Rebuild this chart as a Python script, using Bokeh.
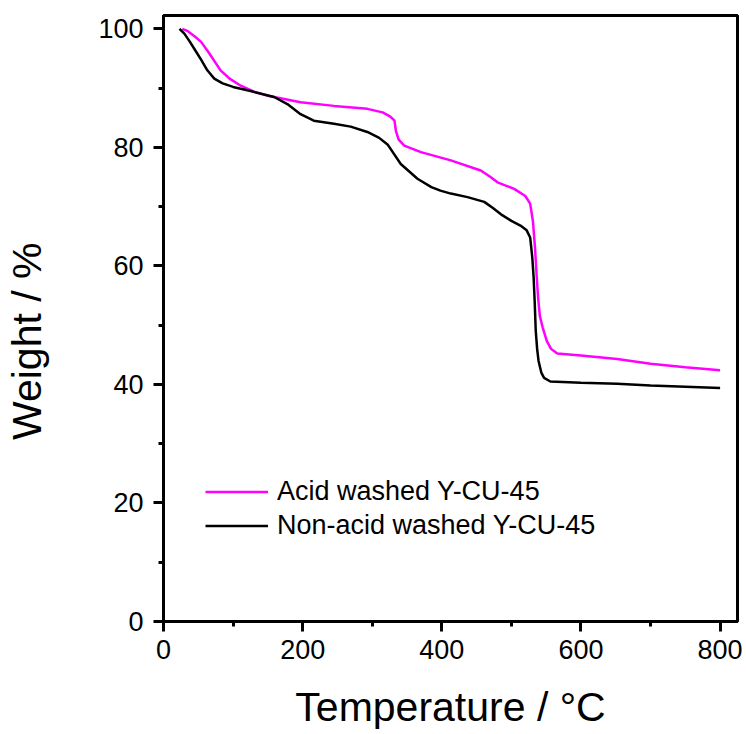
from bokeh.plotting import figure
from bokeh.models import Range1d, FixedTicker, Legend, LegendItem
from bokeh.embed import file_html
from bokeh.resources import INLINE

# Acid washed Y-CU-45
acid_T = [27, 35, 45, 54, 65, 82, 95, 111, 130, 150, 197, 245, 293, 315, 326, 332,
          334, 338, 346, 370, 413, 456, 470, 480, 504, 520, 527, 531, 534, 536.5,
          538.5, 541, 545, 551, 557, 566, 600, 652, 700, 750, 800]
acid_W = [100.0, 99.6, 98.7, 97.8, 96.0, 93.0, 91.6, 90.4, 89.4, 88.7, 87.6, 87.0,
          86.5, 85.9, 85.2, 84.5, 82.8, 81.3, 80.3, 79.2, 77.8, 76.1, 75.0, 74.1,
          73.0, 71.8, 70.5, 67.5, 63.0, 58.0, 54.5, 51.5, 49.6, 47.3, 46.0, 45.2,
          44.9, 44.3, 43.5, 42.9, 42.4]

# Non-acid washed Y-CU-45
non_T = [23, 30, 38, 46, 54, 63, 73, 85, 100, 125, 159, 178, 197, 216, 245, 269,
         293, 310, 322, 341, 365, 385, 398, 413, 437, 461, 473, 485, 500, 513, 522,
         527, 530, 532, 533.5, 535, 537, 539, 543, 547, 556, 600, 652, 700, 750, 800]
non_W = [100.0, 99.2, 97.8, 96.3, 94.8, 93.0, 91.6, 90.8, 90.2, 89.5, 88.5, 87.3,
         85.6, 84.5, 84.0, 83.5, 82.6, 81.6, 80.5, 77.2, 74.7, 73.3, 72.7, 72.2,
         71.6, 70.8, 69.8, 68.7, 67.6, 66.8, 66.0, 64.8, 61.5, 58.0, 54.0, 49.1,
         46.0, 44.0, 42.0, 41.1, 40.5, 40.3, 40.1, 39.8, 39.6, 39.4]

x_ticks = [0, 200, 400, 600, 800]
x_minor = [100, 300, 500, 700]
y_ticks = [0, 20, 40, 60, 80, 100]
y_minor = [10, 30, 50, 70, 90]

series_labels = ["Acid washed Y-CU-45", "Non-acid washed Y-CU-45"]
x_title = "Temperature / °C"
y_title = "Weight / %"

FONT = "Liberation Sans"

p = figure(width=746, height=734, output_backend="svg", toolbar_location=None,
           x_range=Range1d(0, 825), y_range=Range1d(0, 102.25),
           min_border_left=163, min_border_right=9, min_border_top=15,
           min_border_bottom=113)
p.background_fill_color = "white"
p.border_fill_color = "white"
p.grid.visible = False
p.outline_line_color = "black"
p.outline_line_width = 3
p.outline_line_alpha = 1

r1 = p.line(acid_T, acid_W, line_color="#FF00FF", line_width=2.5)
r2 = p.line(non_T, non_W, line_color="black", line_width=2.5)

p.xaxis.ticker = FixedTicker(ticks=x_ticks, minor_ticks=x_minor)
p.yaxis.ticker = FixedTicker(ticks=y_ticks, minor_ticks=y_minor)

for ax in (p.xaxis[0], p.yaxis[0]):
    ax.axis_line_width = 3
    ax.axis_line_color = "black"
    ax.major_tick_line_width = 3
    ax.major_tick_out = 10
    ax.major_tick_in = 0
    ax.minor_tick_line_width = 3
    ax.minor_tick_out = 5
    ax.minor_tick_in = 0
    ax.major_label_text_font = FONT
    ax.major_label_text_font_size = "27px"
    ax.major_label_text_color = "black"
    ax.axis_label_text_font = FONT
    ax.axis_label_text_font_size = "41px"
    ax.axis_label_text_font_style = "normal"
    ax.axis_label_text_color = "black"

p.xaxis.axis_label = x_title
p.xaxis.axis_label_standoff = 22
p.xaxis.major_label_standoff = 8
p.yaxis.major_label_standoff = 10

# y title sits a little below the centre of the axis in the reference;
# trailing non-breaking spaces shift the visible text downward.
p.yaxis.axis_label = y_title + "\u00a0" * 4
p.yaxis.axis_label_standoff = 45

legend = Legend(items=[LegendItem(label=series_labels[0], renderers=[r1]),
                       LegendItem(label=series_labels[1], renderers=[r2])],
                location=(42, 80))
legend.label_text_font = FONT
legend.label_text_font_size = "27px"
legend.label_text_color = "black"
legend.glyph_width = 63
legend.glyph_height = 27
legend.label_height = 27
legend.label_standoff = 9
legend.spacing = 3
legend.padding = 0
legend.margin = 0
legend.border_line_alpha = 0
legend.background_fill_alpha = 0
p.add_layout(legend)

open("out.html", "w").write(file_html(p, INLINE))
